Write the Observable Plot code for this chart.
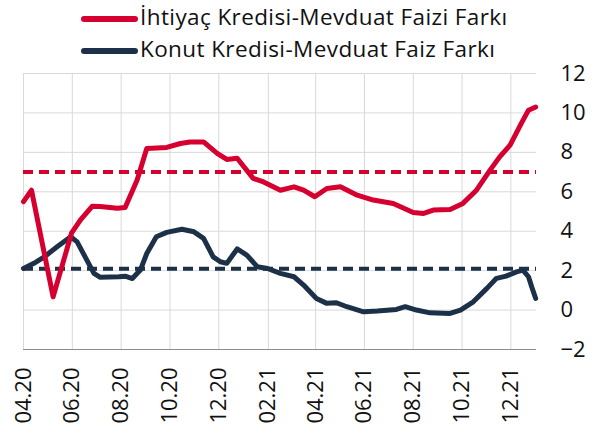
<!DOCTYPE html>
<html>
<head>
<meta charset="utf-8">
<script src="https://cdn.jsdelivr.net/npm/d3@7"></script>
<script src="https://cdn.jsdelivr.net/npm/@observablehq/plot@0.6"></script>
<style>
  html, body { margin: 0; padding: 0; background: #fff; }
  #wrap { position: relative; width: 597px; height: 435px; font-family: "Open Sans", sans-serif; }
  #legend { position: absolute; left: 0; top: 0; }
  #chart { position: absolute; left: 0; top: 0; }
</style>
</head>
<body>
<div id="wrap">
  <div id="chart"></div>
  <svg id="legend" width="597" height="66"></svg>
</div>
<script>
const seriesNames = ["İhtiyaç Kredisi-Mevduat Faizi Farkı", "Konut Kredisi-Mevduat Faiz Farkı"];
const seriesColors = ["#d5002f", "#1c3148"];

const redDates = ["2020-04-01","2020-04-11","2020-05-08","2020-05-31","2020-06-11","2020-06-26","2020-07-06","2020-07-27","2020-08-06","2020-08-21","2020-09-02","2020-09-27","2020-10-14","2020-10-26","2020-11-12","2020-11-29","2020-12-11","2020-12-24","2021-01-13","2021-01-26","2021-02-16","2021-03-05","2021-03-17","2021-03-31","2021-04-15","2021-05-02","2021-05-23","2021-06-12","2021-07-07","2021-08-01","2021-08-14","2021-08-26","2021-09-16","2021-10-02","2021-10-19","2021-11-05","2021-11-17","2021-11-30","2021-12-14","2021-12-23","2022-01-01"];
const redValues = [5.5,6.08,0.67,3.9,4.56,5.27,5.25,5.16,5.2,6.6,8.2,8.25,8.45,8.53,8.53,7.95,7.64,7.7,6.68,6.5,6.08,6.25,6.08,5.75,6.17,6.25,5.83,5.58,5.41,4.95,4.9,5.07,5.1,5.41,6.08,7.1,7.77,8.37,9.47,10.14,10.3];

const navyDates = ["2020-04-01","2020-04-14","2020-04-26","2020-05-13","2020-05-30","2020-06-07","2020-06-17","2020-06-28","2020-07-06","2020-07-29","2020-08-06","2020-08-15","2020-08-25","2020-09-02","2020-09-14","2020-09-27","2020-10-16","2020-10-31","2020-11-12","2020-11-24","2020-12-03","2020-12-11","2020-12-24","2021-01-05","2021-01-18","2021-01-31","2021-02-16","2021-03-05","2021-03-17","2021-04-02","2021-04-15","2021-04-27","2021-05-10","2021-05-31","2021-06-17","2021-07-11","2021-07-22","2021-08-05","2021-08-22","2021-09-16","2021-09-29","2021-10-15","2021-11-01","2021-11-13","2021-11-25","2021-12-08","2021-12-16","2021-12-23","2021-12-27","2022-01-01"];
const navyValues = [2.11,2.37,2.67,3.21,3.72,3.46,2.7,1.86,1.66,1.69,1.72,1.6,2.03,2.87,3.72,3.94,4.1,3.97,3.64,2.7,2.45,2.37,3.1,2.79,2.2,2.11,1.86,1.69,1.27,0.59,0.34,0.37,0.17,-0.09,-0.05,0.03,0.17,0,-0.14,-0.17,0,0.42,1.1,1.61,1.72,1.94,2.03,1.69,1.18,0.59];

const averageValues = [7.0, 2.1];

const xTickLabels = ["04.20","06.20","08.20","10.20","12.20","02.21","04.21","06.21","08.21","10.21","12.21"];
const yTicks = [-2, 0, 2, 4, 6, 8, 10, 12];

const parse = d3.utcParse("%Y-%m-%d");
const redData = redDates.map((d, i) => ({date: parse(d), value: redValues[i]}));
const navyData = navyDates.map((d, i) => ({date: parse(d), value: navyValues[i]}));
const xTicks = xTickLabels.map(s => {
  const [m, y] = s.split(".").map(Number);
  return new Date(Date.UTC(2000 + y, m - 1, 1));
});
const labelFor = new Map(xTicks.map((d, i) => [+d, xTickLabels[i]]));

const chart = Plot.plot({
  width: 597,
  height: 435,
  marginTop: 73,
  marginBottom: 86,
  marginLeft: 23,
  marginRight: 61,
  style: {fontFamily: "Open Sans", fontSize: "22px", color: "#111", background: "transparent"},
  x: {type: "utc", domain: [parse("2020-04-01"), parse("2022-01-02")], axis: null},
  y: {domain: [-2, 12], axis: null},
  marks: [
    Plot.ruleX(xTicks, {y1: -2, y2: 12, stroke: "#d9d9d9", strokeWidth: 1}),
    Plot.ruleY(yTicks.filter(v => v > -2), {stroke: "#d9d9d9", strokeWidth: 1}),
    Plot.ruleY([-2], {stroke: "#8c8c8c", strokeWidth: 1}),
    Plot.axisY(yTicks, {anchor: "right", label: null, tickSize: 0, tickPadding: 24, textAnchor: "start", fontSize: 22, fill: "#111"}),
    Plot.axisX(xTicks, {anchor: "bottom", label: null, tickSize: 0, tickRotate: -90, tickPadding: 18, fontSize: 22, fill: "#111",
      tickFormat: d => labelFor.get(+d)}),
    Plot.ruleY([averageValues[0]], {stroke: seriesColors[0], strokeWidth: 4, strokeDasharray: "10,6"}),
    Plot.ruleY([averageValues[1]], {stroke: seriesColors[1], strokeWidth: 4, strokeDasharray: "10,6"}),
    Plot.line(navyData, {x: "date", y: "value", stroke: seriesColors[1], strokeWidth: 5, strokeLinejoin: "round", strokeLinecap: "round"}),
    Plot.line(redData, {x: "date", y: "value", stroke: seriesColors[0], strokeWidth: 5, strokeLinejoin: "round", strokeLinecap: "round"})
  ]
});
document.getElementById("chart").appendChild(chart);

// legend
const lg = d3.select("#legend");
const rows = [{y: 19, base: 24.5}, {y: 51, base: 57}];
seriesNames.forEach((name, i) => {
  lg.append("line").attr("x1", 84).attr("x2", 135).attr("y1", rows[i].y).attr("y2", rows[i].y)
    .attr("stroke", seriesColors[i]).attr("stroke-width", 6).attr("stroke-linecap", "round");
  lg.append("text").attr("x", 140).attr("y", rows[i].base)
    .attr("font-family", "Open Sans").attr("font-size", 22.5).attr("letter-spacing", 0.4)
    .attr("fill", "#111").text(name);
});
</script>
</body>
</html>
